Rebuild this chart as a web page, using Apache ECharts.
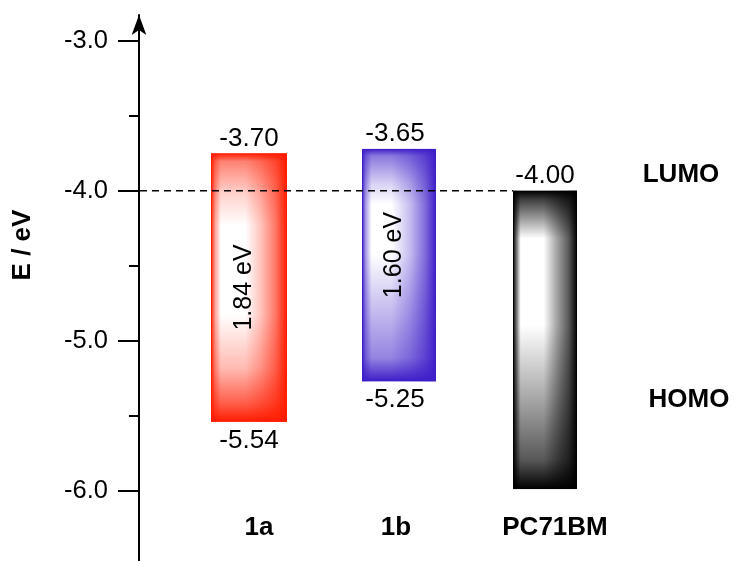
<!DOCTYPE html>
<html><head><meta charset="utf-8">
<script src="https://cdn.jsdelivr.net/npm/echarts@6/dist/echarts.min.js"></script>
<style>html,body{margin:0;padding:0;background:#fff}#c{width:734px;height:561px}</style>
</head><body><div id="c"></div>
<script>
// ---- data ----
const categories = ['1a', '1b', 'PC71BM'];
const lumo = [-3.75, -3.72, -4.00];        // drawn bar tops (eV)
const homo = [-5.54, -5.27, -5.99];        // drawn bar bottoms (eV)
const lumoLabels = ['-3.70', '-3.65', '-4.00'];
const homoLabels = ['-5.54', '-5.25', ''];
const gapLabels = ['1.84 eV', '1.60 eV', ''];
const majorTicks = [-6, -5, -4, -3];
const minorTicks = [-5.5, -4.5, -3.5];
const refLevel = -4.0;
const levelNames = ['LUMO', 'HOMO'];
const axisTitle = 'E / eV';

// ---- styles ----
const FONT = '"Liberation Sans", Arial, Helvetica, sans-serif';
const AXIS_OFFSET = 36;
const catLabelShift = [20, -2, 20];   // padding (px) for category label fine placement
const barStyles = [
  { width: 76, dx: 0, gapDy: 0, rgb: [255, 28, 0],
    h: [[0, 1], [0.05, 0.45], [0.13, 0], [0.45, 0], [0.65, 0.25], [0.85, 0.6], [1, 1]],
    v: [[0, 1], [0.03, 0.55], [0.15, 0.2], [0.27, 0], [0.6, 0], [0.8, 0.3], [0.93, 0.7], [1, 1]] },
  { width: 74, dx: 2, gapDy: -10, rgb: [62, 30, 200],
    h: [[0, 1], [0.05, 0.45], [0.13, 0], [0.4, 0], [0.65, 0.3], [0.85, 0.65], [1, 1]],
    v: [[0, 1], [0.03, 0.6], [0.15, 0.2], [0.24, 0], [0.45, 0], [0.7, 0.3], [0.9, 0.55], [1, 1]] },
  { width: 64, dx: 0, gapDy: 0, rgb: [0, 0, 0],
    h: [[0, 1], [0.05, 0.6], [0.12, 0], [0.48, 0], [0.68, 0.35], [0.87, 0.65], [1, 1]],
    v: [[0, 1], [0.03, 0.75], [0.1, 0.35], [0.16, 0], [0.45, 0], [0.7, 0.35], [0.9, 0.65], [1, 1]] }
];
function rgba(c, a) { return 'rgba(' + c[0] + ',' + c[1] + ',' + c[2] + ',' + a + ')'; }
function mixWhite(c, a) {
  return 'rgb(' + c.map(v => Math.round(255 + (v - 255) * a)).join(',') + ')';
}

function renderBar(params, api) {
  const i = params.dataIndex;
  const st = barStyles[i];
  const idx = api.value(0);
  const pTop = api.coord([idx, api.value(1)]);
  const pBot = api.coord([idx, api.value(2)]);
  const w = st.width;
  const cx = pTop[0] + st.dx;
  const x = cx - w / 2;
  const y = pTop[1];
  const h = pBot[1] - pTop[1];
  const hGrad = new echarts.graphic.LinearGradient(0, 0, 1, 0,
    st.h.map(s => ({ offset: s[0], color: mixWhite(st.rgb, s[1]) })));
  const vGrad = new echarts.graphic.LinearGradient(0, 0, 0, 1,
    st.v.map(s => ({ offset: s[0], color: rgba(st.rgb, s[1]) })));
  const children = [
    { type: 'rect', shape: { x, y, width: w, height: h }, style: { fill: hGrad } },
    { type: 'rect', shape: { x, y, width: w, height: h }, style: { fill: vGrad } },
    { type: 'rect', shape: { x: x + 0.5, y: y + 0.5, width: w - 1, height: h - 1 },
      style: { fill: 'none', stroke: rgba(st.rgb, 0.9), lineWidth: 1 } },
    { type: 'text', style: { text: lumoLabels[i], x: cx - st.dx * 2, y: y - 15, align: 'center', verticalAlign: 'middle',
      fill: '#000', font: '26px ' + FONT } },
    { type: 'text', style: { text: homoLabels[i], x: cx - st.dx * 2, y: y + h + 19, align: 'center', verticalAlign: 'middle',
      fill: '#000', font: '26px ' + FONT } },
    { type: 'text', x: cx - 5, y: y + h / 2 + st.gapDy, rotation: Math.PI / 2,
      style: { text: gapLabels[i], x: 0, y: 0, align: 'center', verticalAlign: 'middle',
      fill: '#000', font: '25px ' + FONT } }
  ];
  return { type: 'group', children };
}

function renderRef(params, api) {
  const last = categories.length - 1;
  const p = api.coord([last, api.value(1)]);
  const x1 = params.coordSys.x - AXIS_OFFSET + 1;
  const x2 = p[0] + barStyles[last].dx - barStyles[last].width / 2;
  return { type: 'line', shape: { x1, y1: p[1], x2, y2: p[1] },
    style: { stroke: '#000', lineWidth: 1.5, lineDash: [7, 5] } };
}

const chart = echarts.init(document.getElementById('c'), null, { renderer: 'canvas' });
const yBase = {
  type: 'value', position: 'left', min: -6.47, max: -2.8265, offset: AXIS_OFFSET, splitLine: { show: false }
};
const rich = {};
catLabelShift.forEach((s, i) => {
  rich['c' + i] = { fontSize: 26, fontWeight: 'bold', color: '#000', fontFamily: FONT,
    padding: s >= 0 ? [0, 0, 0, s] : [0, -s, 0, 0] };
});
chart.setOption({
  animation: false,
  backgroundColor: '#fff',
  grid: { left: 175, right: 115, top: 15, bottom: 0, containLabel: false },
  xAxis: {
    type: 'category', data: categories, offset: -50,
    axisLine: { show: false }, axisTick: { show: false },
    axisLabel: { interval: 0, hideOverlap: false, margin: 4, fontSize: 26, fontWeight: 'bold', color: '#000', fontFamily: FONT,
      formatter: (v, i) => '{c' + i + '|' + v + '}', rich }
  },
  yAxis: [
    Object.assign({}, yBase, {
      axisLine: { show: true, symbol: ['none', 'arrow'], symbolSize: [11, 20],
        lineStyle: { color: '#000', width: 2 } },
      axisTick: { show: true, customValues: majorTicks, length: 21, lineStyle: { color: '#000', width: 2 } },
      axisLabel: { show: true, customValues: majorTicks, margin: 31, fontSize: 25.5, color: '#000', fontFamily: FONT,
        formatter: v => Number(v).toFixed(1) }
    }),
    Object.assign({}, yBase, {
      axisLine: { show: false },
      axisTick: { show: true, customValues: minorTicks, length: 10, lineStyle: { color: '#000', width: 2 } },
      axisLabel: { show: false }
    })
  ],
  graphic: [
    { type: 'text', x: 23, y: 245, rotation: Math.PI / 2,
      style: { text: axisTitle, x: 0, y: 0, align: 'center', verticalAlign: 'middle', fill: '#000',
        font: 'bold 26px ' + FONT } },
    { type: 'text', x: 681, y: 175,
      style: { text: levelNames[0], align: 'center', verticalAlign: 'middle', fill: '#000', font: 'bold 26px ' + FONT } },
    { type: 'text', x: 689, y: 400,
      style: { text: levelNames[1], align: 'center', verticalAlign: 'middle', fill: '#000', font: 'bold 26px ' + FONT } }
  ],
  series: [
    { type: 'custom', renderItem: renderBar, encode: { x: 0, y: [1, 2] },
      data: categories.map((c, i) => [i, lumo[i], homo[i]]), z: 2 },
    { type: 'custom', renderItem: renderRef, encode: { x: 0, y: 1 },
      data: [[categories.length - 1, refLevel]], z: 5 }
  ]
});
</script>
</body></html>
